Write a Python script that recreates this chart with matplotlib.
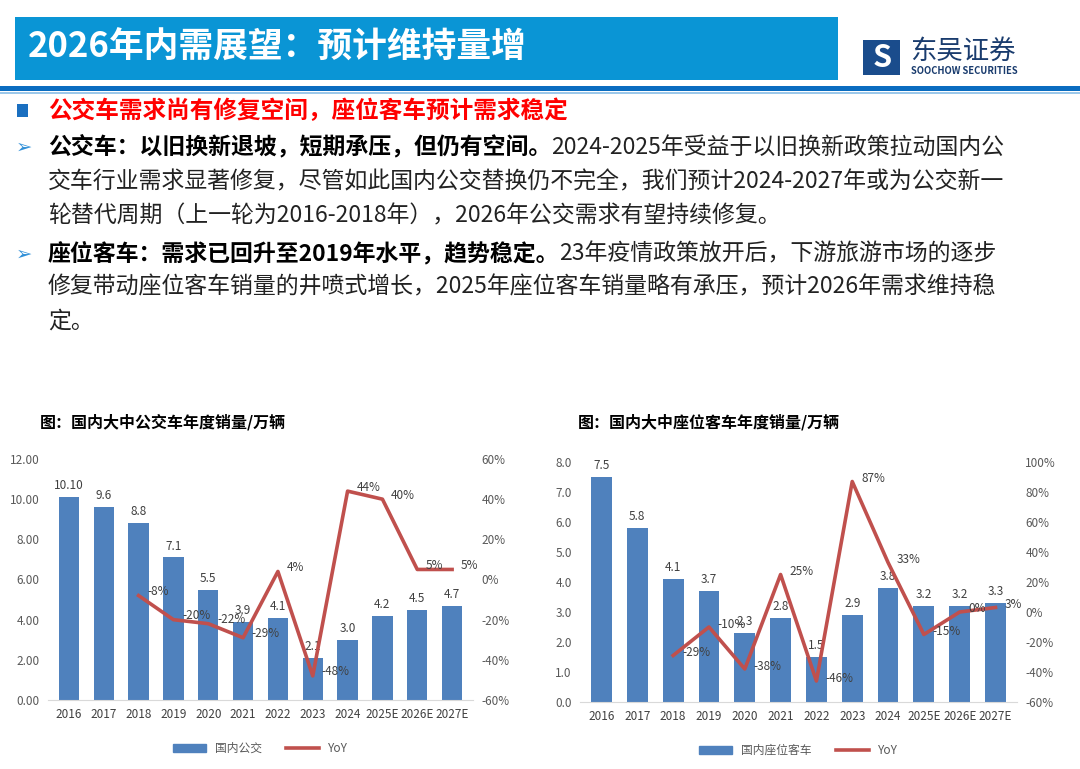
import matplotlib.pyplot as plt
from matplotlib.patches import Rectangle
import numpy as np

plt.rcParams['font.family'] = ['Noto Sans CJK SC', 'DejaVu Sans']

years = ["2016", "2017", "2018", "2019", "2020", "2021", "2022", "2023", "2024", "2025E", "2026E", "2027E"]

bus_sales = [10.10, 9.6, 8.8, 7.1, 5.5, 3.9, 4.1, 2.1, 3.0, 4.2, 4.5, 4.7]
bus_labels = ["10.10", "9.6", "8.8", "7.1", "5.5", "3.9", "4.1", "2.1", "3.0", "4.2", "4.5", "4.7"]
bus_yoy = [None, None, -8, -20, -22, -29, 4, -48, 44, 40, 5, 5]

coach_sales = [7.5, 5.8, 4.1, 3.7, 2.3, 2.8, 1.5, 2.9, 3.8, 3.2, 3.2, 3.3]
coach_yoy = [None, None, -29, -10, -38, 25, -46, 87, 33, -15, 0, 3]

W, H = 1080, 769
fig = plt.figure(figsize=(W / 100, H / 100), dpi=100)
fig.patch.set_facecolor('white')


def px(x, y):
    return x / W, 1 - y / H


def box(x0, y0, x1, y1, color):
    fig.add_artist(Rectangle(px(x0, y1), (x1 - x0) / W, (y1 - y0) / H,
                             transform=fig.transFigure, color=color, lw=0))


# 标题栏
box(15, 17, 838, 80, '#0A95D5')
fig.text(*px(28, 47), "2026年内需展望：预计维持量增", color='white', fontsize=25,
         fontweight='bold', va='center')
box(0, 86, W, 91, '#0A6CC0')
box(0, 92, W, 94, '#9CC8EA')

# 徽标
box(863, 40, 900, 75, '#1A4C8C')
fig.text(*px(882, 58), "S", color='white', fontsize=22, fontweight='bold',
         ha='center', va='center', style='italic')
fig.text(*px(910, 51), "东吴证券", color='#1A3C6E', fontsize=19, va='center')
fig.text(*px(911, 71), "SOOCHOW SECURITIES", color='#1A3C6E', fontsize=6.8,
         va='center', fontweight='bold')

# 正文
box(17, 104, 28, 117, '#1A6FC0')
fig.text(*px(48, 111), "公交车需求尚有修复空间，座位客车预计需求稳定", color='#FF0000',
         fontsize=17, fontweight='bold', va='center')

lines = [
    (147, "公交车：以旧换新退坡，短期承压，但仍有空间。", "2024-2025年受益于以旧换新政策拉动国内公", True),
    (182, "", "交车行业需求显著修复，尽管如此国内公交替换仍不完全，我们预计2024-2027年或为公交新一", False),
    (216, "", "轮替代周期（上一轮为2016-2018年），2026年公交需求有望持续修复。", False),
    (254, "座位客车：需求已回升至2019年水平，趋势稳定。", "23年疫情政策放开后，下游旅游市场的逐步", True),
    (287, "", "修复带动座位客车销量的井喷式增长，2025年座位客车销量略有承压，预计2026年需求维持稳", False),
    (321, "", "定。", False),
]
for y, bold, normal, bullet in lines:
    if bullet:
        fig.text(*px(16, y), "➢", color='#2F8FD8', fontsize=14, va='center',
                 family=['DejaVu Sans'])
    t = fig.text(*px(48, y), bold, fontsize=16.5, fontweight='bold', va='center')
    fig.canvas.draw()
    bb = t.get_window_extent()
    x_next = bb.x1 if bold else 48
    fig.text(x_next / W, 1 - y / H, normal, fontsize=16.5, va='center', color='#222222')

bar_color = '#4F81BD'
line_color = '#C0504D'


def chart(rect, title, title_x, sales, slabels, yoy, ylim, yticks, yfmt, rlim, rticks, legend_name):
    ax = fig.add_axes(rect)
    x = np.arange(len(years))
    ax.bar(x, sales, width=0.58, color=bar_color, zorder=2)
    for i, v in enumerate(sales):
        ax.text(i, v + ylim[1] * 0.02, slabels[i], ha='center', va='bottom',
                fontsize=8.5, color='#404040')
    ax.set_ylim(*ylim)
    ax.set_xlim(-0.6, len(years) - 0.4)
    ax.set_yticks(yticks)
    ax.set_yticklabels([yfmt.format(t) for t in yticks], fontsize=8.5, color='#595959')
    ax.set_xticks(x)
    ax.set_xticklabels(years, fontsize=8.5, color='#404040')
    for s in ['top', 'right', 'left']:
        ax.spines[s].set_visible(False)
    ax.spines['bottom'].set_color('#D9D9D9')
    ax.tick_params(length=0, pad=6)

    ax2 = ax.twinx()
    xi = [i for i, v in enumerate(yoy) if v is not None]
    yv = [v for v in yoy if v is not None]
    ax2.plot(xi, yv, color=line_color, lw=2.6, zorder=3)
    for i, v in zip(xi, yv):
        ax2.text(i + 0.25, v + 2, f"{v}%", fontsize=8.5, color='#404040', va='center')
    ax2.set_ylim(*rlim)
    ax2.set_yticks(rticks)
    ax2.set_yticklabels([f"{t}%" for t in rticks], fontsize=8.5, color='#595959')
    for s in ax2.spines.values():
        s.set_visible(False)
    ax2.tick_params(length=0, pad=6)

    fig.text(*px(title_x, 422), title, fontsize=11.5, fontweight='bold', va='center')
    h1 = Rectangle((0, 0), 1, 1, color=bar_color)
    h2 = plt.Line2D([], [], color=line_color, lw=2.6)
    ax.legend([h1, h2], [legend_name, "YoY"], loc='upper center', bbox_to_anchor=(0.5, -0.13),
              ncol=2, frameon=False, fontsize=8.5, handlelength=2.8, labelcolor='#595959')


chart([48 / W, 1 - 700 / H, 425 / W, 241 / H], "图：国内大中公交车年度销量/万辆", 40,
      bus_sales, bus_labels, bus_yoy, (0, 12), [0, 2, 4, 6, 8, 10, 12], "{:.2f}",
      (-60, 60), [-60, -40, -20, 0, 20, 40, 60], "国内公交")
chart([580 / W, 1 - 702 / H, 437 / W, 240 / H], "图：国内大中座位客车年度销量/万辆", 578,
      coach_sales, [f"{v:.1f}" for v in coach_sales], coach_yoy, (0, 8), [0, 1, 2, 3, 4, 5, 6, 7, 8], "{:.1f}",
      (-60, 100), [-60, -40, -20, 0, 20, 40, 60, 80, 100], "国内座位客车")

plt.savefig('out.png', dpi=100)
